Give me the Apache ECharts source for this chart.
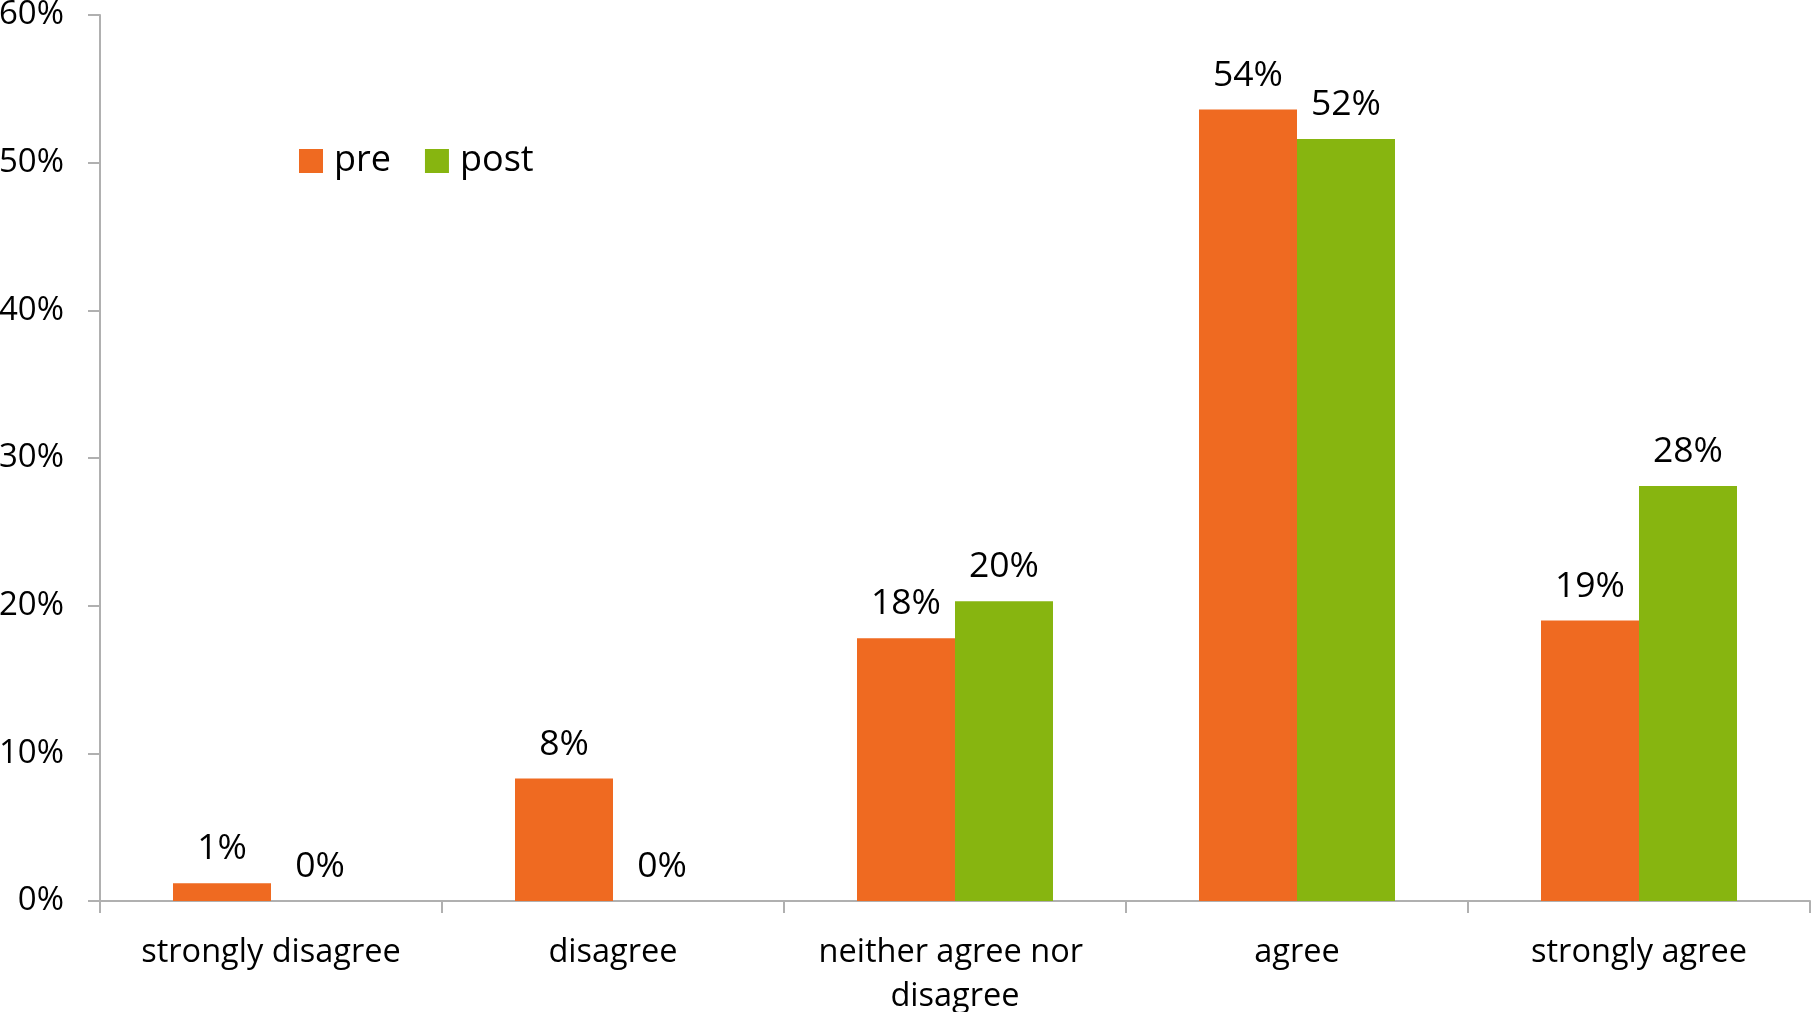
<!DOCTYPE html>
<html>
<head>
<meta charset="utf-8">
<script src="https://cdn.jsdelivr.net/npm/echarts@6/dist/echarts.min.js"></script>
<style>
  html, body { margin: 0; padding: 0; background: #fff; }
  #chart { width: 1811px; height: 1012px; }
</style>
</head>
<body>
<div id="chart"></div>
<script>
// answers per category, share of respondents (%)
var categories = ['strongly disagree', 'disagree', 'neither agree nor disagree', 'agree', 'strongly agree']
var preValues = [1.2, 8.3, 17.8, 53.6, 19.0]
var postValues = [0, 0, 20.3, 51.6, 28.1]
var yTicks = [0, 10, 20, 30, 40, 50, 60]

var font = 'Open Sans'
var axisColor = '#b0b0b0'
var chart = echarts.init(document.getElementById('chart'))

function barLabel () {
  return {
    show: true,
    position: 'top',
    distance: 16,
    fontFamily: font,
    fontSize: 35.5,
    color: '#000',
    formatter: function (p) { return Math.round(p.value) + '%' },
  }
}

chart.setOption({
  animation: false,
  textStyle: { fontFamily: font },
  legend: {
    data: ['pre', 'post'],
    left: 294,
    top: 138,
    itemWidth: 24,
    itemHeight: 24,
    itemGap: 34,
    icon: 'rect',
    textStyle: { fontFamily: font, fontSize: 36, color: '#000', padding: [0, 0, 0, 6] },
  },
  grid: {
    left: 100,
    right: 1,
    top: 15,
    bottom: 111,
    containLabel: false,
    outerBoundsMode: 'none',
  },
  xAxis: {
    type: 'category',
    data: categories,
    axisLine: { lineStyle: { color: axisColor, width: 2 } },
    axisTick: { show: true, length: 12, lineStyle: { color: axisColor, width: 2 } },
    axisLabel: {
      interval: 0,
      margin: 30,
      fontFamily: font,
      fontSize: 32.5,
      color: '#000',
      lineHeight: 44,
      width: 300,
      overflow: 'break',
    },
  },
  yAxis: {
    type: 'value',
    min: yTicks[0],
    max: yTicks[yTicks.length - 1],
    interval: 10,
    splitLine: { show: false },
    axisLine: { show: true, lineStyle: { color: axisColor, width: 2 } },
    axisTick: { show: true, length: 12, lineStyle: { color: axisColor, width: 2 } },
    axisLabel: {
      margin: 36,
      fontFamily: font,
      fontSize: 33,
      color: '#000',
      formatter: '{value}%',
    },
  },
  series: [
    {
      name: 'pre',
      type: 'bar',
      data: preValues,
      barWidth: 98,
      barGap: '0%',
      itemStyle: { color: '#ef6a21' },
      label: barLabel(),
    },
    {
      name: 'post',
      type: 'bar',
      data: postValues,
      barWidth: 98,
      barGap: '0%',
      itemStyle: { color: '#87b510' },
      label: barLabel(),
    },
  ],
})
</script>
</body>
</html>
